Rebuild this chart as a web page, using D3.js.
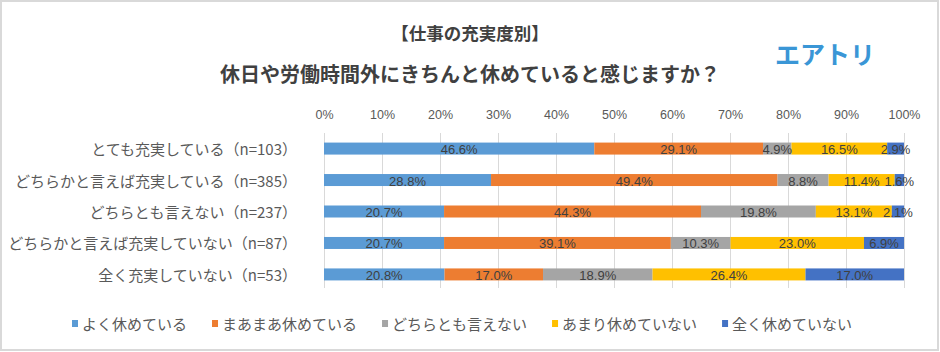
<!DOCTYPE html>
<html>
<head>
<meta charset="utf-8">
<script src="https://cdn.jsdelivr.net/npm/d3@7"></script>
<style>
  body { margin: 0; background: #fff; }
  svg { display: block; }
  .grid line { stroke: #d9d9d9; stroke-width: 1; }
  .grid path { display: none; }
</style>
</head>
<body>
<svg id="chart"></svg>
<script>
// categories (rows, top to bottom)
var categories = [
  "とても充実している（n=103）",
  "どちらかと言えば充実している（n=385）",
  "どちらとも言えない（n=237）",
  "どちらかと言えば充実していない（n=87）",
  "全く充実していない（n=53）"
];

// series names (legend order)
var seriesNames = ["よく休めている", "まあまあ休めている", "どちらとも言えない", "あまり休めていない", "全く休めていない"];

// series values (%), one per category
var yokuYasumeteiru = [46.6, 28.8, 20.7, 20.7, 20.8];
var maamaaYasumeteiru = [29.1, 49.4, 44.3, 39.1, 17.0];
var dochiratomo = [4.9, 8.8, 19.8, 10.3, 18.9];
var amariYasumeteinai = [16.5, 11.4, 13.1, 23.0, 26.4];
var mattakuYasumeteinai = [2.9, 1.6, 2.1, 6.9, 17.0];

// tick labels of the top axis
var tickLabels = ["0%", "10%", "20%", "30%", "40%", "50%", "60%", "70%", "80%", "90%", "100%"];

var colors = ["#5b9bd5", "#ed7d31", "#a5a5a5", "#ffc000", "#4472c4"];

var seriesValues = [yokuYasumeteiru, maamaaYasumeteiru, dochiratomo, amariYasumeteinai, mattakuYasumeteinai];

var rows = categories.map(function(c, i) {
  var r = { cat: c };
  seriesNames.forEach(function(s, j) { r[s] = seriesValues[j][i]; });
  return r;
});

var W = 940, H = 352;
var jpFont = "'Noto Sans CJK JP', 'Noto Sans', sans-serif";
var numFont = "'Liberation Sans', Arial, sans-serif";

var svg = d3.select("svg#chart")
    .attr("width", W)
    .attr("height", H);

// outer frame
svg.append("rect")
    .attr("x", 1).attr("y", 1)
    .attr("width", W - 3).attr("height", H - 3)
    .attr("fill", "#fff")
    .attr("stroke", "#d9d9d9")
    .attr("stroke-width", 2);

// titles
svg.append("text")
    .attr("x", 470).attr("y", 32)
    .attr("text-anchor", "middle")
    .attr("dominant-baseline", "central")
    .style("font-family", jpFont)
    .style("font-size", "17.5px")
    .style("font-weight", "bold")
    .attr("fill", "#404040")
    .text("【仕事の充実度別】");

svg.append("text")
    .attr("x", 470).attr("y", 73)
    .attr("text-anchor", "middle")
    .attr("dominant-baseline", "central")
    .style("font-family", jpFont)
    .style("font-size", "20px")
    .style("font-weight", "bold")
    .attr("fill", "#404040")
    .text("休日や労働時間外にきちんと休めていると感じますか？");

// logo text
svg.append("text")
    .attr("x", 775).attr("y", 53)
    .attr("dominant-baseline", "central")
    .style("font-family", jpFont)
    .style("font-size", "25px")
    .style("font-weight", "bold")
    .attr("fill", "#3a96d6")
    .text("エアトリ");

// scales
var x = d3.scaleLinear().domain([0, 1]).range([324, 904]);
var y = d3.scaleBand().domain(categories).range([133, 290]).paddingInner(0.61).paddingOuter(0.3);

// gridlines
svg.append("g")
    .attr("class", "grid")
    .attr("transform", "translate(0,288)")
    .call(d3.axisBottom(x).ticks(10).tickSize(-155).tickFormat(""));

// top axis labels
svg.append("g")
    .attr("transform", "translate(0,115)")
    .call(d3.axisTop(x).ticks(10).tickSize(0).tickFormat(function(d, i) { return tickLabels[i]; }))
    .call(function(g) { g.select(".domain").remove(); })
    .selectAll("text")
    .attr("dy", "0.35em")
    .attr("y", 0)
    .style("font-family", numFont)
    .style("font-size", "12.5px")
    .attr("fill", "#595959");

// stack (normalised to 100%)
var stack = d3.stack().keys(seriesNames).offset(d3.stackOffsetExpand);
var layers = stack(rows);

var barH = 12;
var yc = function(c) { return y(c) + y.bandwidth() / 2; };

layers.forEach(function(layer, j) {
  svg.append("g")
      .selectAll("rect")
      .data(layer)
      .join("rect")
      .attr("x", function(d) { return x(d[0]); })
      .attr("y", function(d) { return yc(d.data.cat) - barH / 2; })
      .attr("width", function(d) { return x(d[1]) - x(d[0]); })
      .attr("height", barH)
      .attr("fill", colors[j]);
});

// value labels
layers.forEach(function(layer, j) {
  svg.append("g")
      .selectAll("text")
      .data(layer)
      .join("text")
      .attr("x", function(d) { return (x(d[0]) + x(d[1])) / 2; })
      .attr("y", function(d) { return yc(d.data.cat) + 1; })
      .attr("text-anchor", "middle")
      .attr("dominant-baseline", "central")
      .style("font-family", numFont)
      .style("font-size", "13px")
      .attr("fill", "#404040")
      .text(function(d) { return d.data[layer.key].toFixed(1) + "%"; });
});

// category labels
svg.append("g")
    .selectAll("text")
    .data(categories)
    .join("text")
    .attr("x", 297)
    .attr("y", function(d) { return yc(d); })
    .attr("text-anchor", "end")
    .attr("dominant-baseline", "central")
    .style("font-family", jpFont)
    .style("font-size", "15px")
    .attr("fill", "#595959")
    .text(function(d) { return d; });

// legend
var legend = svg.append("g");
var lx = 0;
seriesNames.forEach(function(s, j) {
  var item = legend.append("g").attr("transform", "translate(" + lx + ",0)");
  item.append("rect")
      .attr("x", 0).attr("y", -3)
      .attr("width", 6).attr("height", 7)
      .attr("fill", colors[j]);
  var t = item.append("text")
      .attr("x", 10).attr("y", 0)
      .attr("dominant-baseline", "central")
      .style("font-family", jpFont)
      .style("font-size", "15px")
      .attr("fill", "#595959")
      .text(s);
  lx += 10 + t.node().getComputedTextLength() + 25;
});
legend.attr("transform", "translate(72,323)");
</script>
</body>
</html>
